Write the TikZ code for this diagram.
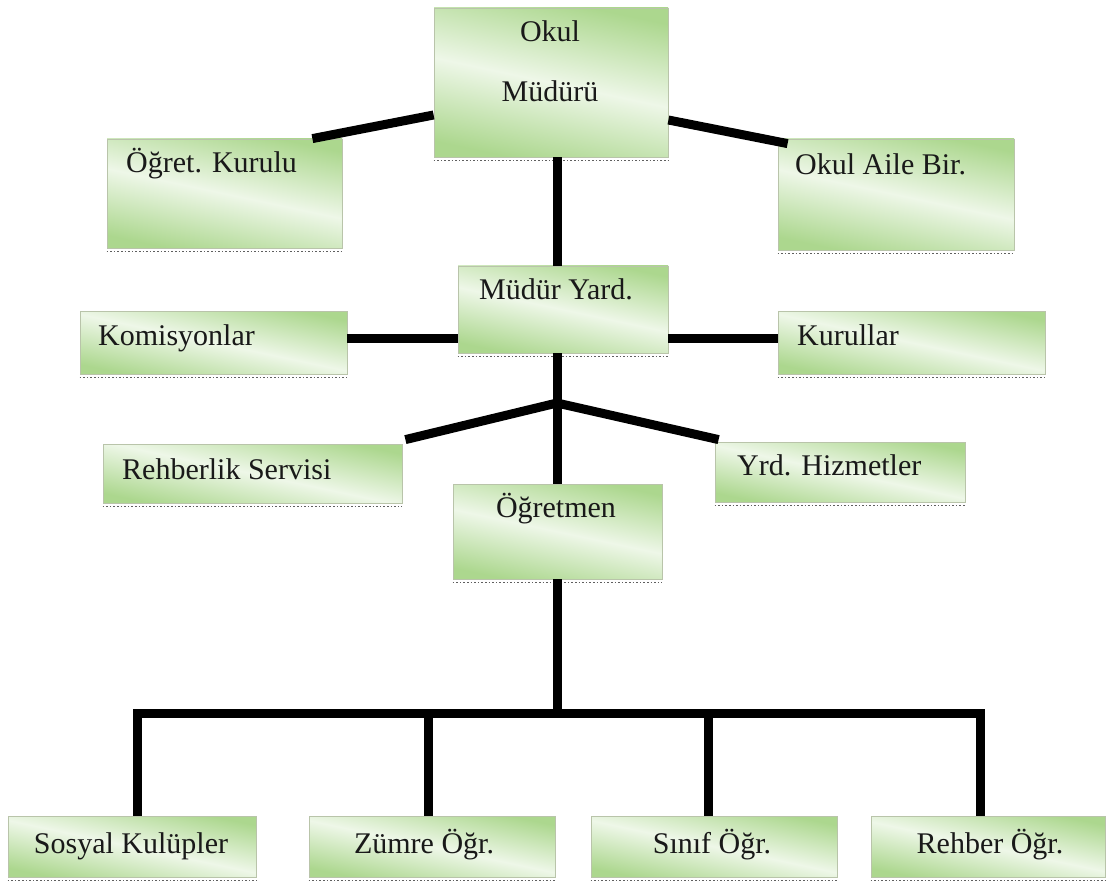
\documentclass[tikz,border=0pt]{standalone}
\usepackage{fontspec}
\newfontfamily\orgfont{Liberation Serif}
\definecolor{gcorner}{RGB}{172,215,142}
\definecolor{gmid}{RGB}{238,247,232}
\definecolor{gborder}{RGB}{185,196,170}
\definecolor{shadowc}{RGB}{95,95,95}
\tikzset{
  orgbox/.style={draw=gborder, line width=0.8pt, top color=gcorner, bottom color=gcorner, middle color=gmid, shading angle=-12, inner sep=0pt},
  shadowline/.style={draw=shadowc, line width=1.6pt, dotted},
  conn/.style={line width=9pt, black, line join=miter},
  lbl/.style={font=\orgfont\fontsize{30}{35}\selectfont, inner sep=0pt, text=black!90}
}
\newcommand\orgbox[5]{%
  \node[orgbox, minimum width={(#4-#2)*1pt}, minimum height={(#5-#3)*1pt}] (#1) at ({(#2+#4)/2},{(#3+#5)/2}) {};
  \draw[shadowline] ([yshift=-3pt]#1.south west) -- ([yshift=-3pt]#1.south east);
}
\begin{document}
\begin{tikzpicture}[x=1pt,y=-1pt]
\useasboundingbox (0,0) rectangle (1113,885);
\fill[white] (0,0) rectangle (1113,885);
% boxes
\orgbox{om}{434}{8}{668}{157}
\orgbox{ok}{107}{139}{342}{248}
\orgbox{oa}{778}{139}{1014}{250}
\orgbox{my}{458}{266}{668}{353}
\orgbox{ko}{80}{311}{347}{374}
\orgbox{ku}{778}{311}{1045}{374}
\orgbox{rs}{103}{444}{402}{503}
\orgbox{yh}{715}{442}{965}{502}
\orgbox{og}{453}{484}{662}{579}
\orgbox{b1}{8}{816}{256}{877}
\orgbox{b2}{309}{816}{555}{877}
\orgbox{b3}{591}{816}{837}{877}
\orgbox{b4}{871}{816}{1105}{877}
% labels
\node[lbl, anchor=base] (tom1) at (550,42) {Okul};
\node[lbl, anchor=base] (tom2) at (550,102) {Müdürü};
\node[lbl, anchor=base west] (tok) at (126,173) {Öğret. Kurulu};
\node[lbl, anchor=base west] (toa) at (795,175) {Okul Aile Bir.};
\node[lbl, anchor=base] (tmy) at (556,299) {Müdür Yard.};
\node[lbl, anchor=base west] (tko) at (98,345) {Komisyonlar};
\node[lbl, anchor=base west] (tku) at (797,345) {Kurullar};
\node[lbl, anchor=base west] (trs) at (122,479) {Rehberlik Servisi};
\node[lbl, anchor=base west] (tyh) at (737,475) {Yrd. Hizmetler};
\node[lbl, anchor=base] (tog) at (556,517) {Öğretmen};
\node[lbl, anchor=base] (tb1) at (131,853) {Sosyal Kulüpler};
\node[lbl, anchor=base] (tb2) at (424,853) {Zümre Öğr.};
\node[lbl, anchor=base] (tb3) at (712,853) {Sınıf Öğr.};
\node[lbl, anchor=base] (tb4) at (990,853) {Rehber Öğr.};
% junctions
\coordinate (j1) at (557,403);
\coordinate (j2) at (557,713);
% connectors
\draw[conn] ([yshift=-32.5pt]om.west) -- ([xshift=-30pt]ok.north east);
\draw[conn] ([yshift=-37.5pt]om.east) -- ([xshift=10pt,yshift=-5pt]oa.north west);
\draw[conn] (om.south -| j1) -- (my.north -| j1);
\draw[conn] ([yshift=4.5pt]ko.east) -- ([yshift=4.5pt]ko.east -| my.west);
\draw[conn] ([yshift=4.5pt]ku.west) -- ([yshift=4.5pt]ku.west -| my.east);
\draw[conn] (my.south -| j1) -- (j1) -- (og.north -| j1);
\draw[conn] (j1) -- ([xshift=3pt,yshift=4pt]rs.north east);
\draw[conn] (j1) -- ([xshift=4pt,yshift=2pt]yh.north west);
\draw[conn] (og.south -| j2) -- (j2);
\draw[conn] ([xshift=5pt]b1.north) -- ([xshift=5pt]b1.north |- j2) -- ([xshift=-8pt]b4.north |- j2) -- ([xshift=-8pt]b4.north);
\draw[conn] ([xshift=-4pt]b2.north |- j2) -- ([xshift=-4pt]b2.north);
\draw[conn] ([xshift=-6pt]b3.north |- j2) -- ([xshift=-6pt]b3.north);
\end{tikzpicture}
\end{document}
